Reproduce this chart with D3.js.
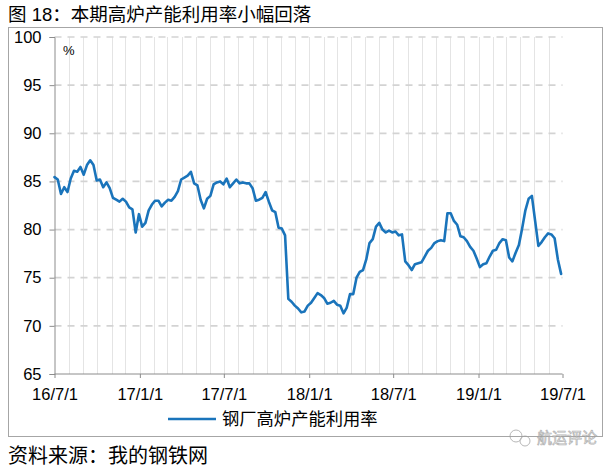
<!DOCTYPE html>
<html>
<head>
<meta charset="utf-8">
<script src="https://cdn.jsdelivr.net/npm/d3@7"></script>
<style>
  html, body { margin: 0; padding: 0; background: #fff; }
  svg { display: block; }
  text { font-family: "Liberation Sans", Arial, "Noto Sans CJK SC", sans-serif; }
</style>
</head>
<body>
<svg id="chart" width="613" height="468"></svg>
<script>
// ---- data (weekly, from 2016-07-01) ----
const startDate = "2016-07-01";
const utilization = [
  85.45, 85.2, 83.7, 84.4, 83.9, 85.3, 86.1, 86.0, 86.5, 85.7,
  86.7, 87.2, 86.7, 85.1, 85.2, 84.4, 84.9, 84.3, 83.3, 83.1,
  82.9, 83.2, 82.9, 82.3, 82.1, 79.7, 81.6, 80.3, 80.7, 82.0,
  82.6, 83.0, 83.0, 82.4, 82.8, 83.1, 83.0, 83.4, 84.0, 85.2,
  85.4, 85.6, 86.0, 84.8, 84.6, 83.1, 82.2, 83.2, 83.5, 84.7,
  84.9, 85.0, 84.7, 85.3, 84.4, 84.8, 85.2, 84.8, 84.9, 84.8,
  84.8, 84.3, 83.0, 83.1, 83.3, 83.9, 82.9, 82.0, 81.8, 80.2,
  80.1, 79.4, 72.8, 72.5, 72.1, 71.8, 71.4, 71.5, 72.1, 72.4,
  72.9, 73.4, 73.2, 72.9, 72.3, 72.4, 72.6, 72.2, 72.1, 71.3,
  71.9, 73.3, 73.3, 75.0, 75.6, 75.8, 76.9, 78.6, 79.0, 80.3,
  80.7, 80.0, 79.7, 79.9, 79.7, 79.8, 79.4, 79.5, 76.7, 76.3,
  75.8, 76.4, 76.5, 76.6, 77.2, 77.8, 78.1, 78.6, 78.8, 78.9,
  78.8, 81.7, 81.7, 80.9, 80.5, 79.3, 79.2, 78.8, 78.2, 77.8,
  77.0, 76.1, 76.4, 76.5, 77.2, 77.8, 77.9, 78.6, 79.0, 78.9,
  77.1, 76.7, 77.6, 78.4, 80.1, 82.0, 83.2, 83.5, 80.9, 78.3,
  78.7, 79.2, 79.6, 79.5, 79.1, 76.9, 75.4
];
const xTickLabels = ["16/7/1", "17/1/1", "17/7/1", "18/1/1", "18/7/1", "19/1/1", "19/7/1"];
const yTicks = [65, 70, 75, 80, 85, 90, 95, 100];
const seriesName = "钢厂高炉产能利用率";
const titleText = "图 18：本期高炉产能利用率小幅回落";
const sourceText = "资料来源：我的钢铁网";
const unitText = "%";
const watermarkText = "航运评论";

// ---- build ----
const parse = d3.timeParse("%Y-%m-%d");
const t0 = parse(startDate);
const data = utilization.map((v, i) => ({ date: d3.timeDay.offset(t0, 7 * i), value: v }));
const parseTick = d3.timeParse("%y/%m/%d");
const xTickDates = xTickLabels.map(s => parseTick(s));

const svg = d3.select("#chart");
const blue = "#1a74bb";

const x = d3.scaleTime()
  .domain([xTickDates[0], xTickDates[xTickDates.length - 1]])
  .range([54.5, 562.5]);
const y = d3.scaleLinear().domain([65, 100]).range([374, 37]);

// frame
svg.append("rect").attr("x", 8.5).attr("y", 27.5).attr("width", 594).attr("height", 409)
  .attr("fill", "none").attr("stroke", "#a6a6a6").attr("stroke-width", 1);

// title
svg.append("text").attr("x", 8).attr("y", 21).attr("font-size", 18.5).attr("fill", "#000")
  .text(titleText);

// monthly vertical gridlines
const months = d3.timeMonth.range(d3.timeMonth.offset(xTickDates[0], 1), xTickDates[xTickDates.length - 1]);
svg.append("g").selectAll("line").data(months).join("line")
  .attr("x1", d => Math.round(x(d)) + 0.5).attr("x2", d => Math.round(x(d)) + 0.5)
  .attr("y1", y(100)).attr("y2", y(65))
  .attr("stroke", "#e4e4e4").attr("stroke-width", 1);

// horizontal dashed gridlines
svg.append("g").selectAll("line").data(yTicks.filter(v => v > 65)).join("line")
  .attr("x1", x.range()[0]).attr("x2", x.range()[1])
  .attr("y1", d => y(d)).attr("y2", d => y(d))
  .attr("stroke", "#d3d3d3").attr("stroke-width", 1.7).attr("stroke-dasharray", "7,6");

// y axis
const yAxis = d3.axisLeft(y).tickValues(yTicks).tickSize(5).tickPadding(8).tickFormat(d3.format("d"));
const gy = svg.append("g").attr("transform", `translate(${x.range()[0]},0)`).call(yAxis);
gy.select(".domain").attr("stroke", "#8c8c8c");
gy.selectAll(".tick line").attr("stroke", "#8c8c8c");
gy.selectAll("text").attr("font-size", 16.5).attr("fill", "#000")
  .attr("font-family", "'Liberation Sans', Arial, sans-serif");

// x axis
const xAxis = d3.axisBottom(x).tickValues(xTickDates).tickSize(4).tickPadding(10)
  .tickFormat((d, i) => xTickLabels[i]);
const gx = svg.append("g").attr("transform", `translate(0,${y(65)})`).call(xAxis);
gx.select(".domain").attr("stroke", "#8c8c8c").attr("d", `M${x.range()[0]},0H${x.range()[1]}`);
gx.selectAll(".tick line").attr("stroke", "#8c8c8c");
gx.selectAll("text").attr("font-size", 16.5).attr("fill", "#000")
  .attr("font-family", "'Liberation Sans', Arial, sans-serif");

// unit
svg.append("text").attr("x", 63).attr("y", 55).attr("font-size", 13).attr("fill", "#000").text(unitText);

// line
const line = d3.line().x(d => x(d.date)).y(d => y(d.value)).curve(d3.curveLinear);
svg.append("path").datum(data).attr("d", line)
  .attr("fill", "none").attr("stroke", blue).attr("stroke-width", 2.6)
  .attr("stroke-linejoin", "round").attr("stroke-linecap", "round");

// legend
svg.append("line").attr("x1", 168).attr("x2", 216).attr("y1", 419).attr("y2", 419)
  .attr("stroke", blue).attr("stroke-width", 2.6);
svg.append("text").attr("x", 222).attr("y", 425).attr("font-size", 17.3).attr("fill", "#000")
  .text(seriesName);

// source
svg.append("text").attr("x", 8).attr("y", 463).attr("font-size", 20).attr("fill", "#000")
  .text(sourceText);

// watermark
const wm = svg.append("g").attr("opacity", 0.75);
wm.append("circle").attr("cx", 516).attr("cy", 436).attr("r", 6).attr("fill", "none").attr("stroke", "#a0a0a0").attr("stroke-width", 1);
wm.append("circle").attr("cx", 525).attr("cy", 441).attr("r", 5).attr("fill", "none").attr("stroke", "#a0a0a0").attr("stroke-width", 1);
wm.append("text").attr("x", 537).attr("y", 443).attr("font-size", 15)
  .attr("font-family", "'Noto Sans CJK SC', sans-serif")
  .attr("fill", "#f2f2f2").attr("stroke", "#9a9a9a").attr("stroke-width", 0.7)
  .text(watermarkText);
</script>
</body>
</html>
